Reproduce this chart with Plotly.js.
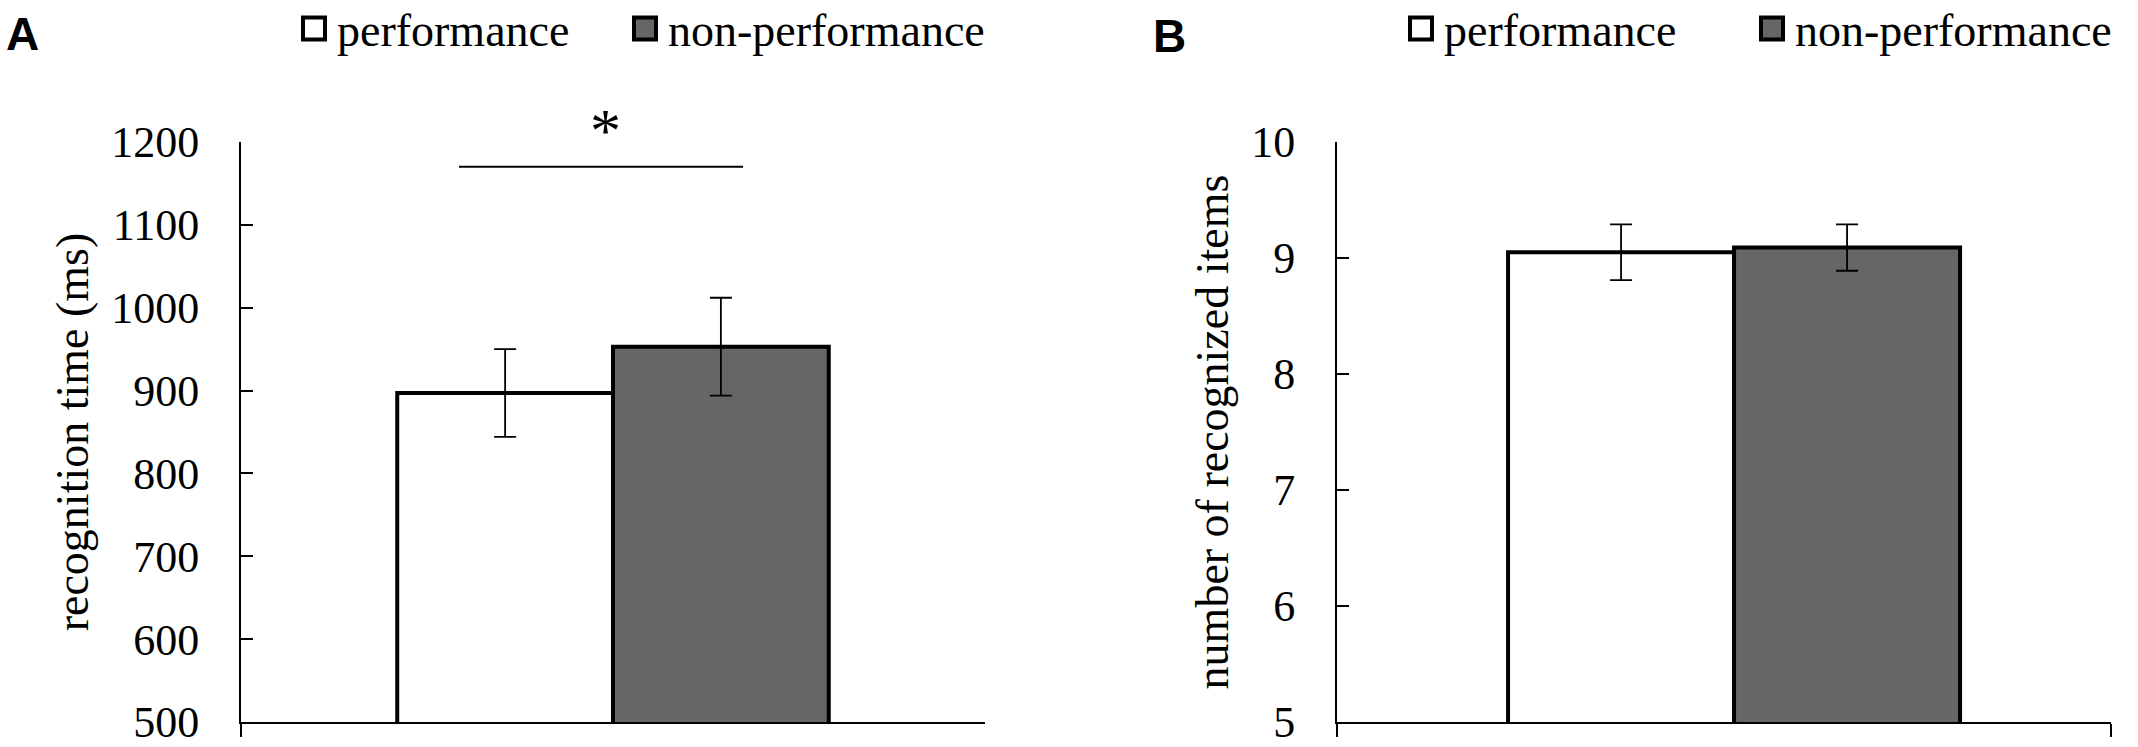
<!DOCTYPE html>
<html>
<head>
<meta charset="utf-8">
<script src="https://cdn.plot.ly/plotly-3.0.1.min.js"></script>
<style>html,body{margin:0;padding:0;background:#fff;} #chart{width:2138px;height:747px;}</style>
</head>
<body>
<div id="chart"></div>
<script>
// ---- data ----
var seriesNames = ["performance", "non-performance"];
var seriesColors = ["#ffffff", "#666666"];
var category = ["condition"];
// Panel A: recognition time (ms)
var timeMeans = [897, 953];
var timeErrors = [53, 59];
// Panel B: number of recognized items
var itemMeans = [9.05, 9.09];
var itemErrors = [0.24, 0.20];
var timeTicks = [500, 600, 700, 800, 900, 1000, 1100, 1200];
var itemTicks = [5, 6, 7, 8, 9, 10];

var SERIF = "Liberation Serif, Times New Roman, serif";
var W = 2138, H = 747;

function barTrace(i, means, errs, xa, ya, leg, extra) {
  var t = {
    type: "bar",
    name: seriesNames[i],
    x: category,
    y: [means[i]],
    xaxis: xa, yaxis: ya,
    legend: leg,
    marker: {color: seriesColors[i], line: {color: "#000", width: 4}},
    error_y: {type: "data", array: [errs[i]], visible: true, color: "#000", thickness: 1.8, width: 11},
    hoverinfo: "y"
  };
  return Object.assign(t, extra || {});
}

// panel B bars sit slightly right of the axis centre in the reference
var bW = 0.292, bShift = 0.013;
var traces = [
  barTrace(0, timeMeans, timeErrors, "x", "y", "legend"),
  barTrace(1, timeMeans, timeErrors, "x", "y", "legend2"),
  barTrace(0, itemMeans, itemErrors, "x2", "y2", "legend3", {width: bW, offset: -bW + bShift}),
  barTrace(1, itemMeans, itemErrors, "x2", "y2", "legend4", {width: bW, offset: bShift})
];

var ydom = [(H - 722) / H, (H - 142) / H];

function xAxis(d0, d1, anchor) {
  return {
    domain: [d0 / W, d1 / W], anchor: anchor, type: "category",
    showline: true, linecolor: "#000", linewidth: 2,
    ticks: "outside", tickson: "boundaries", ticklen: 13, tickwidth: 2, tickcolor: "#000",
    showticklabels: false, showgrid: false, zeroline: false, fixedrange: true
  };
}
function yAxis(range, ticks, title, anchor) {
  return {
    domain: ydom, anchor: anchor, range: range,
    tickmode: "array", tickvals: ticks, ticktext: ticks.map(String),
    showline: true, linecolor: "#000", linewidth: 2,
    ticks: "inside", ticklen: 12, tickwidth: 2, tickcolor: "#000",
    ticklabelstandoff: 31, ticklabeloverflow: "allow",
    tickfont: {family: SERIF, size: 44, color: "#000"},
    showgrid: false, zeroline: false, fixedrange: true,
    title: {text: title, font: {family: SERIF, size: 46, color: "#000"}, standoff: 8}
  };
}

function legendAt(textLeft) {
  return {
    orientation: "h", yanchor: "top", y: 1.0107, xanchor: "left", x: (textLeft - 40) / W,
    font: {family: SERIF, size: 46, color: "#000"},
    bgcolor: "rgba(0,0,0,0)", borderwidth: 0
  };
}

var layout = {
  width: W, height: H,
  margin: {l: 0, r: 0, t: 0, b: 0, autoexpand: false},
  paper_bgcolor: "#fff", plot_bgcolor: "#fff",
  barmode: "group", bargap: 0.42, bargroupgap: 0,
  showlegend: true,
  xaxis: xAxis(241, 985, "y"),
  yaxis: yAxis([500, 1200], timeTicks, "recognition time (ms)", "x"),
  xaxis2: xAxis(1337, 2111, "y2"),
  yaxis2: yAxis([5, 10], itemTicks, "number of recognized items", "x2"),
  legend: legendAt(337),
  legend2: legendAt(668),
  legend3: legendAt(1444),
  legend4: legendAt(1795),
  shapes: [
    {type: "line", xref: "paper", yref: "y", x0: 459 / W, x1: 743 / W, y0: 1170, y1: 1170,
     line: {color: "#000", width: 2}}
  ],
  annotations: [
    {text: "*", xref: "paper", yref: "paper", x: 605 / W, y: (H - 130) / H, showarrow: false,
     font: {family: SERIF, size: 62, color: "#000"}, xanchor: "center", yanchor: "middle"},
    {text: "<b>A</b>", xref: "paper", yref: "paper", x: 4 / W, y: (H - 34) / H, showarrow: false,
     font: {family: "Liberation Sans, Arial, sans-serif", size: 46, color: "#000"}, xanchor: "left", yanchor: "middle"},
    {text: "<b>B</b>", xref: "paper", yref: "paper", x: 1151 / W, y: (H - 36) / H, showarrow: false,
     font: {family: "Liberation Sans, Arial, sans-serif", size: 46, color: "#000"}, xanchor: "left", yanchor: "middle"}
  ]
};

function enlargeSwatches() {
  document.querySelectorAll("#chart g.legendpoints path").forEach(function (p) {
    p.setAttribute("d", "M8,11H-14V-11H8Z");
  });
}
Plotly.newPlot("chart", traces, layout, {displayModeBar: false, responsive: false}).then(enlargeSwatches);
enlargeSwatches();
</script>
</body>
</html>
